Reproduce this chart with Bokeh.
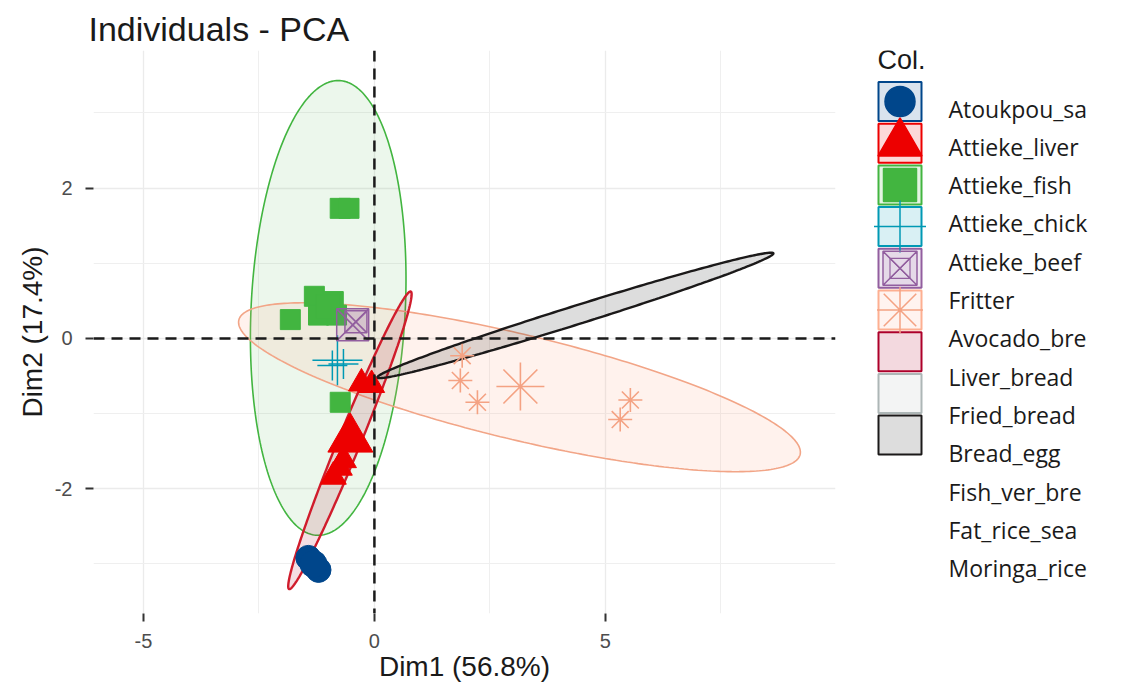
import numpy as np
from bokeh.plotting import figure
from bokeh.models import Range1d, FixedTicker, Span
from bokeh.layouts import row
from bokeh.embed import file_html
from bokeh.resources import INLINE
from bokeh.core.properties import value

# ---------------- data ----------------
legend_labels = ["Atoukpou_sa", "Attieke_liver", "Attieke_fish", "Attieke_chick",
                 "Attieke_beef", "Fritter", "Avocado_bre", "Liver_bread",
                 "Fried_bread", "Bread_egg", "Fish_ver_bre", "Fat_rice_sea",
                 "Moringa_rice"]
palette = ["#00468B", "#ED0000", "#42B540", "#0099B4", "#925E9F",
           "#FDAF91", "#AD002A", "#ADB6B6", "#1B1919"]
group_markers = ["circle", "triangle", "square", "cross", "square_x", "asterisk"]

x_ticks = [-5, 0, 5]
x_minor = [-7.5, -2.5, 2.5, 7.5]
y_ticks = [-2, 0, 2]
y_minor = [-3, -1, 1, 3]
x_tick_labels = ["-5", "0", "5"]
y_tick_labels = ["-2", "0", "2"]

# individuals per group (Dim1, Dim2)
atoukpou_x = [-1.43, -1.21]
atoukpou_y = [-2.92, -3.08]
liver_x = [-0.67, -0.89, -0.76, -0.28, -0.06]
liver_y = [-1.62, -1.84, -1.72, -0.60, -0.62]
fish_x = [-0.74, -0.55, -1.82, -1.30, -0.89, -1.21, -0.82, -0.74]
fish_y = [1.73, 1.73, 0.25, 0.56, 0.49, 0.31, 0.31, -0.85]
chick_x = [-0.91, -0.67]
chick_y = [-0.36, -0.34]
beef_x = [-0.40]
beef_y = [0.22]
fritter_x = [1.90, 1.86, 2.23, 5.54, 5.32]
fritter_y = [-0.23, -0.56, -0.85, -0.82, -1.08]

# group mean points
mean_x = [-1.32, -0.52, -1.00, -0.80, -0.47, 3.16]
mean_y = [-3.00, -1.34, 0.42, -0.29, 0.18, -0.64]

# concentration ellipses: centre and two conjugate semi-diameters (data units)
ell_group = [2, 5, 6, 8]
ell_cx = [-1.00, 3.14, -0.53, 4.35]
ell_cy = [0.405, -0.65, -1.356, 0.306]
ell_ux = [0.216, 6.08, 1.31, 4.286]
ell_uy = [3.025, -0.864, 1.98, 0.824]
ell_vx = [1.67, 0.0, 0.26, 0.0]
ell_vy = [0.0, -0.718, 0.0, 0.13]

# ---------------- main plot ----------------
FONT = "Liberation Sans"
PW, H = 843, 685
TOP, BOTTOM = 50, 613
p = figure(width=PW, height=H, x_range=Range1d(-6.08, 9.98),
           y_range=Range1d(-3.66, 3.83), min_border_left=93, min_border_right=8,
           min_border_top=TOP, min_border_bottom=H - BOTTOM, output_backend="svg",
           toolbar_location=None, title="Individuals - PCA")
p.outline_line_color = None
p.title.text_font = FONT
p.title.text_font_size = "34px"
p.title.text_font_style = "normal"
p.title.text_color = "#1a1a1a"
p.title.align = "left"
p.title.offset = -5
p.title.standoff = 6

p.xaxis.ticker = FixedTicker(ticks=x_ticks, minor_ticks=x_minor)
p.yaxis.ticker = FixedTicker(ticks=y_ticks, minor_ticks=y_minor)
p.xaxis.major_label_overrides = dict(zip(x_ticks, x_tick_labels))
p.yaxis.major_label_overrides = dict(zip(y_ticks, y_tick_labels))
p.xaxis.axis_label = "Dim1 (56.8%)"
p.yaxis.axis_label = "Dim2 (17.4%)"
for ax in (p.xaxis, p.yaxis):
    ax.axis_line_color = None
    ax.minor_tick_line_color = None
    ax.major_tick_line_color = "#333333"
    ax.major_tick_line_width = 2
    ax.major_tick_in = 0
    ax.major_tick_out = 8
    ax.major_label_text_font = FONT
    ax.major_label_text_font_size = "20px"
    ax.major_label_text_color = "#4D4D4D"
    ax.axis_label_text_font = FONT
    ax.axis_label_text_font_size = "28px"
    ax.axis_label_text_font_style = "normal"
    ax.axis_label_text_color = "#1a1a1a"
p.xaxis.major_label_standoff = 12
p.xaxis.axis_label_standoff = 0
p.yaxis.major_label_standoff = 13
p.yaxis.axis_label_standoff = 4

for g in (p.xgrid, p.ygrid):
    g.grid_line_color = "#EBEBEB"
    g.grid_line_width = 1.3
    g.minor_grid_line_color = "#EFEFEF"
    g.minor_grid_line_width = 1.0

# ellipses
phi = np.linspace(0, 2 * np.pi, 300)
ell_line_w = [1.6, 1.6, 2.4, 2.4]
ell_alpha = [0.10, 0.16, 0.13, 0.15]
ell_line_col = ["#42B540", "#F2A587", "#D01C2C", "#1B1919"]
for i, gi in enumerate(ell_group):
    ex = ell_cx[i] + ell_ux[i] * np.cos(phi) + ell_vx[i] * np.sin(phi)
    ey = ell_cy[i] + ell_uy[i] * np.cos(phi) + ell_vy[i] * np.sin(phi)
    p.patch(ex, ey, fill_color=palette[gi], fill_alpha=ell_alpha[i],
            line_color=ell_line_col[i], line_width=ell_line_w[i])

# individuals
small_size = [25, 26, 20, 30, 22, 24]
mean_size = [27, 45, 24, 50, 32, 48]
line_w = [1, 1, 1, 1.5, 1.5, 1.6]
fill_a = [1, 1, 1, 0, 0.15, 0]
pts = [(atoukpou_x, atoukpou_y), (liver_x, liver_y), (fish_x, fish_y),
       (chick_x, chick_y), (beef_x, beef_y), (fritter_x, fritter_y)]
for k, (xs, ys) in enumerate(pts):
    col = palette[k] if k != 5 else "#F4A283"
    p.scatter(xs, ys, marker=group_markers[k], size=small_size[k],
              fill_color=col, fill_alpha=fill_a[k], line_color=col,
              line_width=line_w[k])
    p.scatter([mean_x[k]], [mean_y[k]], marker=group_markers[k], size=mean_size[k],
              fill_color=col, fill_alpha=fill_a[k], line_color=col,
              line_width=line_w[k])

p.add_layout(Span(location=0, dimension="height", line_color="#1a1a1a",
                  line_width=2.5, line_dash="11 7"))
p.add_layout(Span(location=0, dimension="width", line_color="#1a1a1a",
                  line_width=2.5, line_dash="11 7"))

# ---------------- legend panel ----------------
# (the row aligns this panel's frame with the main frame: TOP..BOTTOM in page px)
LW = 1129 - PW
leg = figure(width=LW, height=H, x_range=Range1d(0, LW),
             y_range=Range1d(BOTTOM, TOP), min_border=0,
             min_border_top=TOP, min_border_bottom=H - BOTTOM,
             toolbar_location=None, output_backend="svg",
             x_axis_type=None, y_axis_type=None)
leg.outline_line_color = None
leg.xgrid.visible = False
leg.ygrid.visible = False

leg.text(x=[34], y=[59], text=["Col."], text_font=value(FONT),
         text_font_size="27px", text_baseline="middle", text_align="left",
         text_color="#1a1a1a")

n_keys = len(palette)
key_x = 56.5
key_y = [101 + 41.7 * k for k in range(n_keys)]
leg.rect(x=[key_x] * n_keys, y=key_y, width=43, height=39, fill_color=palette,
         fill_alpha=0.15, line_color=palette, line_width=2)
key_msize = [30, 44, 33, 52, 34, 46]
key_fill_a = [1, 1, 1, 0, 0.1, 0]
for k in range(len(group_markers)):
    col = palette[k] if k != 5 else "#F4A283"
    leg.scatter([key_x], [key_y[k]], marker=group_markers[k], size=key_msize[k],
                fill_color=col, fill_alpha=key_fill_a[k], line_color=col,
                line_width=1.5)
leg.scatter([key_x], [key_y[4]], marker="square_x", size=20, fill_alpha=0,
            line_color=palette[4], line_width=1.2)

label_y = [108 + 38.3 * k for k in range(len(legend_labels))]
leg.text(x=[105] * len(legend_labels), y=label_y, text=legend_labels,
         text_font=value("Open Sans"), text_font_size="23px",
         text_baseline="middle", text_align="left", text_color="#1a1a1a")

layout = row(p, leg)
open("out.html", "w").write(file_html(layout, INLINE))
